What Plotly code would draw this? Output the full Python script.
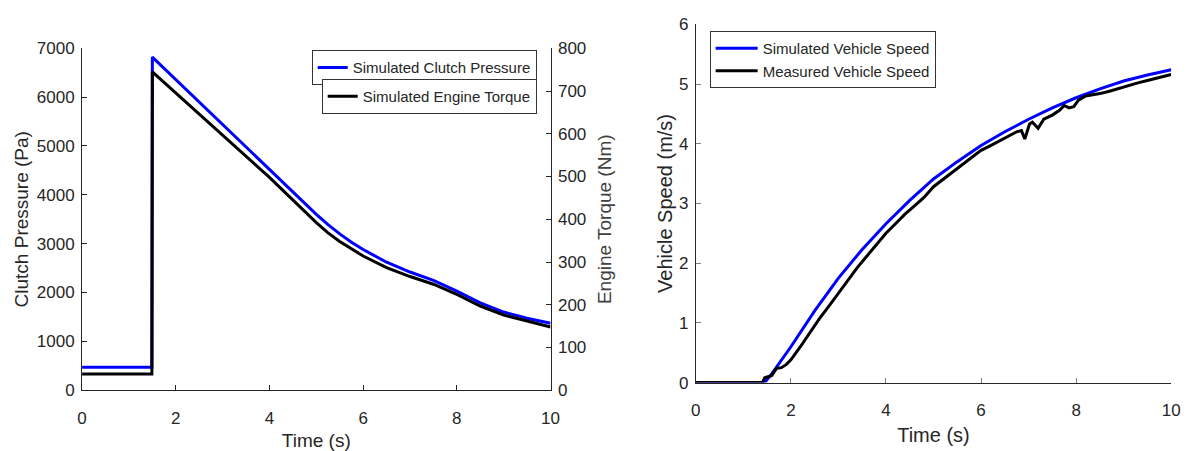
import plotly.graph_objects as go

# ---- Left panel data ----
t_left = [0, 1.49, 1.5, 2, 3, 4, 5, 5.25, 5.5, 5.75, 6, 6.5, 7, 7.5, 8, 8.5, 9, 9.5, 10]
clutch_pressure = [470, 470, 6820, 6360, 5430, 4510, 3600, 3390, 3200, 3030, 2880, 2620, 2420, 2250, 2030, 1790, 1600, 1475, 1370]
engine_torque = [38, 38, 745, 696, 597, 498, 392, 368, 348, 331, 314, 287, 266, 248, 224, 197, 176, 162, 148]

# ---- Right panel data ----
t_sim = [0, 1.45, 1.6, 1.8, 2, 2.5, 3, 3.5, 4, 4.5, 5, 5.5, 6, 6.5, 7, 7.5, 8, 8.5, 9, 9.5, 10]
sim_speed = [0, 0, 0.15, 0.37, 0.6, 1.2, 1.75, 2.23, 2.66, 3.05, 3.41, 3.7, 3.97, 4.2, 4.41, 4.6, 4.77, 4.92, 5.05, 5.15, 5.24]

t_meas = [0, 1.40, 1.45, 1.55, 1.6, 1.7, 1.8, 1.9, 2.0, 2.2, 2.4, 2.6, 2.8, 3.0, 3.2, 3.4, 3.6, 3.8,
          4.0, 4.2, 4.4, 4.6, 4.8, 5.0, 5.2, 5.4, 5.6, 5.8, 6.0, 6.2, 6.4, 6.6, 6.75, 6.85, 6.92,
          7.02, 7.08, 7.2, 7.32, 7.5, 7.65, 7.75, 7.85, 7.95, 8.05, 8.2, 8.35, 8.5, 8.7, 8.9, 9.1,
          9.3, 9.5, 9.7, 9.85, 10]
meas_speed = [0, 0, 0.08, 0.1, 0.12, 0.24, 0.25, 0.3, 0.38, 0.6, 0.84, 1.07, 1.28, 1.5, 1.72, 1.93, 2.12, 2.32,
              2.5, 2.66, 2.82, 2.96, 3.1, 3.28, 3.4, 3.52, 3.64, 3.77, 3.89, 3.97, 4.05, 4.13, 4.2, 4.22, 4.08,
              4.33, 4.36, 4.26, 4.41, 4.48, 4.56, 4.64, 4.6, 4.62, 4.73, 4.8, 4.82, 4.84, 4.88, 4.93, 4.97,
              5.02, 5.06, 5.1, 5.12, 5.16]

x_ticks = [0, 2, 4, 6, 8, 10]

BLUE = "#0000FF"
BLACK = "#000000"
AX = "#262626"
FONT = "Liberation Sans, Arial, Helvetica, sans-serif"

fig = go.Figure()
fig.add_trace(go.Scatter(x=t_left, y=clutch_pressure, mode="lines", name="Simulated Clutch Pressure",
                         line=dict(color=BLUE, width=3), xaxis="x", yaxis="y", legend="legend"))
fig.add_trace(go.Scatter(x=t_left, y=engine_torque, mode="lines", name="Simulated Engine Torque",
                         line=dict(color=BLACK, width=3), xaxis="x", yaxis="y3", legend="legend2"))
fig.add_trace(go.Scatter(x=t_sim, y=sim_speed, mode="lines", name="Simulated Vehicle Speed",
                         line=dict(color=BLUE, width=3), xaxis="x2", yaxis="y2", legend="legend3"))
fig.add_trace(go.Scatter(x=t_meas, y=meas_speed, mode="lines", name="Measured Vehicle Speed",
                         line=dict(color=BLACK, width=3), xaxis="x2", yaxis="y2", legend="legend3"))

W, H = 1196, 451
def px_x(p):
    return p / W
def px_y(p):
    return 1 - p / H

def axis(tick_size, tickcolor=AX, **kw):
    d = dict(showgrid=False, zeroline=False, showline=True, linecolor=AX, linewidth=1,
             ticks="inside", ticklen=5, tickcolor=tickcolor,
             tickfont=dict(family=FONT, size=tick_size, color=AX))
    d.update(kw)
    return d

legend_style = dict(bgcolor="white", bordercolor="#333333", borderwidth=1,
                    font=dict(family=FONT, size=15, color=AX), tracegroupgap=0)

fig.update_layout(
    width=W, height=H, margin=dict(l=0, r=0, t=0, b=0),
    paper_bgcolor="white", plot_bgcolor="white", showlegend=True,
    font=dict(family=FONT, color=AX),
    xaxis=axis(17, domain=[px_x(78), px_x(552)], range=[0, 10], tickvals=x_ticks, anchor="y",
               ticklabelstandoff=12,
               title=dict(text="Time (s)", font=dict(size=19, color=AX), standoff=9)),
    yaxis=axis(17, domain=[px_y(398), px_y(41)], range=[0, 7000], dtick=1000, anchor="x",
               ticklabelstandoff=3,
               title=dict(text="Clutch Pressure (Pa)", font=dict(size=19, color=AX), standoff=3)),
    yaxis3=axis(17, domain=[px_y(398), px_y(41)], range=[0, 800], dtick=100, anchor="x", overlaying="y",
                side="right", ticklabelstandoff=3,
                title=dict(text="Engine Torque (Nm)", font=dict(size=19, color="#404040"), standoff=12)),
    xaxis2=axis(17, tickcolor="#808080", domain=[px_x(699), px_x(1180)], range=[0, 10], tickvals=x_ticks,
                anchor="y2", ticklabelstandoff=12,
                title=dict(text="Time (s)", font=dict(size=20, color=AX), standoff=9)),
    yaxis2=axis(17, tickcolor="#808080", domain=[px_y(390), px_y(16)], range=[0, 6], dtick=1, anchor="x2",
                ticklabelstandoff=3,
                title=dict(text="Vehicle Speed (m/s)", font=dict(size=20, color=AX), standoff=0)),
    legend=dict(x=px_x(538), y=px_y(43), xanchor="right", yanchor="top", itemwidth=30, **legend_style),
    legend2=dict(x=px_x(538), y=px_y(73), xanchor="right", yanchor="top", itemwidth=30, **legend_style),
    legend3=dict(x=px_x(713), y=px_y(23), xanchor="left", yanchor="top", itemwidth=42, **legend_style),
)

fig.write_html("out.html")
